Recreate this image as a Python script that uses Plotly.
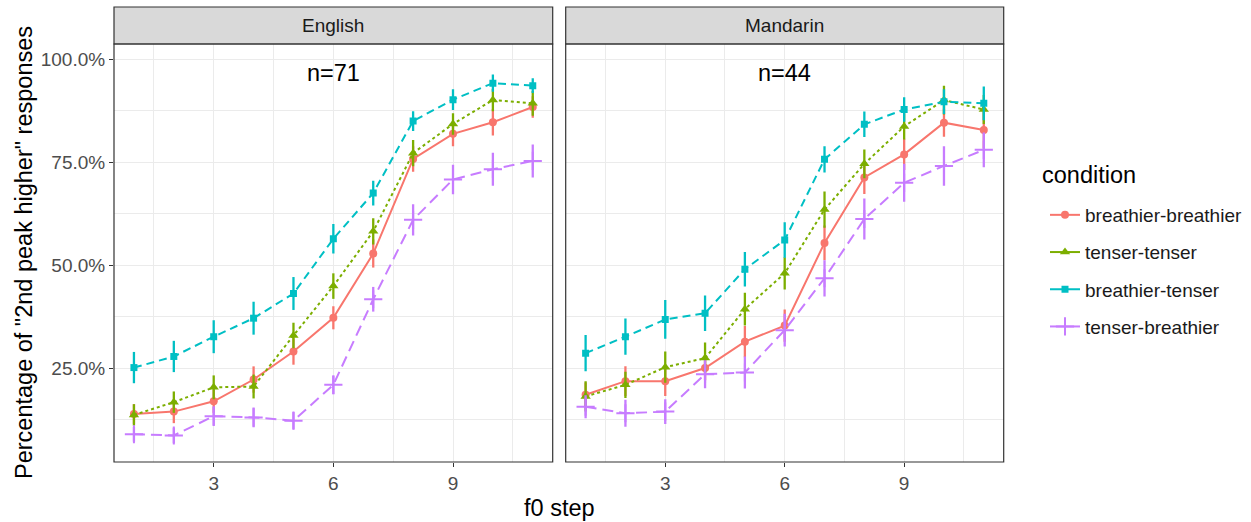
import plotly.graph_objects as go

# f0 continuum steps
steps = list(range(1, 12))

conditions = ["breathier-breathier", "tenser-tenser", "breathier-tenser", "tenser-breathier"]
languages = ["English", "Mandarin"]
sample_sizes = ["n=71", "n=44"]

# Percentage of "2nd peak higher" responses (mean) and error half-widths, English
eng_bb = [13.8, 14.4, 16.9, 22.2, 29.0, 37.2, 52.8, 75.8, 81.9, 84.7, 88.4]
eng_bb_err = [2.4, 2.8, 2.8, 3.2, 3.2, 2.8, 3.4, 3.1, 3.0, 3.2, 2.6]
eng_tt = [13.6, 16.7, 20.3, 20.5, 32.9, 44.9, 58.2, 77.2, 84.3, 90.1, 89.3]
eng_tt_err = [2.6, 2.6, 2.9, 2.9, 3.1, 3.1, 3.2, 3.2, 2.6, 2.7, 3.0]
eng_bt = [25.1, 27.8, 32.6, 37.1, 43.1, 56.4, 67.5, 85.0, 90.2, 94.2, 93.6]
eng_bt_err = [3.8, 3.8, 4.0, 4.0, 4.0, 3.6, 3.0, 2.4, 2.5, 2.1, 1.8]
eng_tb = [8.9, 8.6, 13.3, 13.0, 12.2, 20.9, 41.7, 61.0, 70.8, 73.3, 75.3]
eng_tb_err = [1.8, 1.9, 2.4, 2.4, 2.1, 2.3, 3.0, 3.8, 3.6, 4.0, 4.0]

# Mandarin
man_bb = [18.5, 21.8, 21.8, 25.0, 31.4, 35.3, 55.4, 71.3, 76.9, 84.6, 82.8]
man_bb_err = [3.0, 3.6, 3.6, 3.0, 3.8, 3.9, 4.2, 4.0, 3.8, 3.4, 4.5]
man_tt = [18.1, 20.9, 25.2, 27.4, 39.3, 48.0, 63.5, 74.6, 83.7, 90.1, 87.8]
man_tt_err = [3.7, 3.2, 3.8, 3.8, 4.0, 3.9, 4.4, 3.5, 3.2, 3.5, 3.5]
man_bt = [28.6, 32.6, 36.8, 38.3, 49.0, 56.1, 75.7, 84.2, 87.8, 89.7, 89.3]
man_bt_err = [4.4, 4.4, 4.7, 4.3, 4.2, 4.3, 3.2, 3.1, 3.0, 3.0, 4.1]
man_tb = [15.6, 14.0, 14.4, 23.5, 23.9, 34.2, 46.8, 61.2, 70.0, 74.1, 78.0]
man_tb_err = [2.8, 3.3, 3.0, 3.4, 3.9, 4.0, 4.4, 5.0, 4.6, 4.8, 4.2]

y_ticks = [25, 50, 75, 100]
y_tick_labels = ["25.0%", "50.0%", "75.0%", "100.0%"]
x_ticks = [3, 6, 9]

series = {
    "English": [(eng_bb, eng_bb_err), (eng_tt, eng_tt_err), (eng_bt, eng_bt_err), (eng_tb, eng_tb_err)],
    "Mandarin": [(man_bb, man_bb_err), (man_tt, man_tt_err), (man_bt, man_bt_err), (man_tb, man_tb_err)],
}

colors = ["#F8766D", "#7CAE00", "#00BFC4", "#C77CFF"]
dashes = ["solid", "3px,3px", "8px,5px", "11px,6px"]
symbols = ["circle", "triangle-up", "square", "cross-thin"]
sizes = [8, 9, 7, 13]

FONT = "Liberation Sans, Arial, sans-serif"
SMALL = 19
LARGE = 23.5

fig = go.Figure()

for li, lang in enumerate(languages):
    xa = "x" if li == 0 else "x2"
    ya = "y" if li == 0 else "y2"
    for ci, cond in enumerate(conditions):
        vals, errs = series[lang][ci]
        fig.add_trace(go.Scatter(
            x=steps, y=vals, xaxis=xa, yaxis=ya,
            mode="lines+markers",
            line=dict(color=colors[ci], width=2, dash=dashes[ci]),
            marker=dict(symbol=symbols[ci], size=sizes[ci], color=colors[ci],
                        line=dict(color=colors[ci], width=2 if ci == 3 else 0)),
            error_y=dict(type="data", array=errs, visible=True, color=colors[ci],
                         thickness=2.3, width=0),
            showlegend=False, name=cond,
        ))

# legend keys
for ci, cond in enumerate(conditions):
    fig.add_trace(go.Scatter(
        x=[None], y=[None], mode="lines+markers", name=cond,
        legendgroup=cond,
        line=dict(color=colors[ci], width=2),
        marker=dict(symbol=symbols[ci], size=sizes[ci], color=colors[ci],
                    line=dict(color=colors[ci], width=2 if ci == 3 else 0)),
        showlegend=True,
    ))

W, H = 1251, 522
px1 = (114, 552.7)
px2 = (565.7, 1003.7)
top_px, bot_px, strip_top_px = 44, 462, 7

def fx(p):
    return p / W

def fy(p):
    return (H - p) / H

y_dom = [fy(bot_px), fy(top_px)]
y_range = [2.16, 103.72]
x_range = [0.5, 11.5]

grid = "#EBEBEB"
axis_common = dict(
    showgrid=True, gridcolor=grid, gridwidth=1.3, zeroline=False,
    showline=False, ticks="outside", ticklen=4, tickwidth=1, tickcolor="#333333",
    tickfont=dict(family=FONT, size=SMALL, color="#4D4D4D"),
)
minor_x = dict(tickvals=[1.5, 4.5, 7.5, 10.5], showgrid=True, gridcolor=grid, gridwidth=0.8, ticklen=0)
minor_y = dict(tickvals=[12.5, 37.5, 62.5, 87.5], showgrid=True, gridcolor=grid, gridwidth=0.8, ticklen=0)

fig.update_layout(
    width=W, height=H, margin=dict(l=0, r=0, t=0, b=0),
    paper_bgcolor="white", plot_bgcolor="white",
    font=dict(family=FONT),
    xaxis=dict(domain=[fx(px1[0]), fx(px1[1])], range=x_range, tickvals=x_ticks,
               anchor="y", minor=minor_x, **axis_common),
    xaxis2=dict(domain=[fx(px2[0]), fx(px2[1])], range=x_range, tickvals=x_ticks,
                anchor="y2", minor=minor_x, **axis_common),
    yaxis=dict(domain=y_dom, range=y_range, tickvals=y_ticks, ticktext=y_tick_labels,
               anchor="x", minor=minor_y, **axis_common),
    yaxis2=dict(domain=y_dom, range=y_range, tickvals=y_ticks, showticklabels=False,
                anchor="x2", minor=minor_y,
                **{**axis_common, "ticks": ""}),
    legend=dict(
        x=fx(1045), y=fy(196), xanchor="left", yanchor="top",
        font=dict(family=FONT, size=SMALL, color="#1A1A1A"),
        tracegroupgap=9.5, bgcolor="rgba(0,0,0,0)",
    ),
)

shapes = []
annotations = []
for li, (a, b) in enumerate([px1, px2]):
    # facet strip
    shapes.append(dict(type="rect", xref="paper", yref="paper",
                       x0=fx(a), x1=fx(b), y0=fy(top_px), y1=fy(strip_top_px),
                       fillcolor="#D9D9D9", line=dict(color="#333333", width=1.2), layer="above"))
    # panel border
    shapes.append(dict(type="rect", xref="paper", yref="paper",
                       x0=fx(a), x1=fx(b), y0=fy(bot_px), y1=fy(top_px),
                       fillcolor="rgba(0,0,0,0)", line=dict(color="#333333", width=1.2), layer="above"))
    annotations.append(dict(xref="paper", yref="paper", x=fx((a + b) / 2), y=fy((top_px + strip_top_px) / 2),
                            xanchor="center", yanchor="middle",
                            text=languages[li], showarrow=False,
                            font=dict(family=FONT, size=SMALL, color="#1A1A1A")))
    annotations.append(dict(xref="x" if li == 0 else "x2", yref="y" if li == 0 else "y2",
                            x=6, y=96.7, xanchor="center", yanchor="middle",
                            text=sample_sizes[li], showarrow=False,
                            font=dict(family=FONT, size=LARGE, color="#000000")))

annotations.append(dict(xref="paper", yref="paper", x=fx(24), y=fy(253),
                        xanchor="center", yanchor="middle",
                        text='Percentage of "2nd peak higher" responses', textangle=-90,
                        showarrow=False, font=dict(family=FONT, size=LARGE, color="#000000")))
annotations.append(dict(xref="paper", yref="paper", x=fx(559), y=fy(508),
                        xanchor="center", yanchor="middle",
                        text="f0 step", showarrow=False,
                        font=dict(family=FONT, size=LARGE, color="#000000")))
annotations.append(dict(xref="paper", yref="paper", x=fx(1040), y=fy(175),
                        xanchor="left", yanchor="middle",
                        text="condition", showarrow=False,
                        font=dict(family=FONT, size=LARGE, color="#000000")))

fig.update_layout(shapes=shapes, annotations=annotations)

fig.write_html("out.html")
